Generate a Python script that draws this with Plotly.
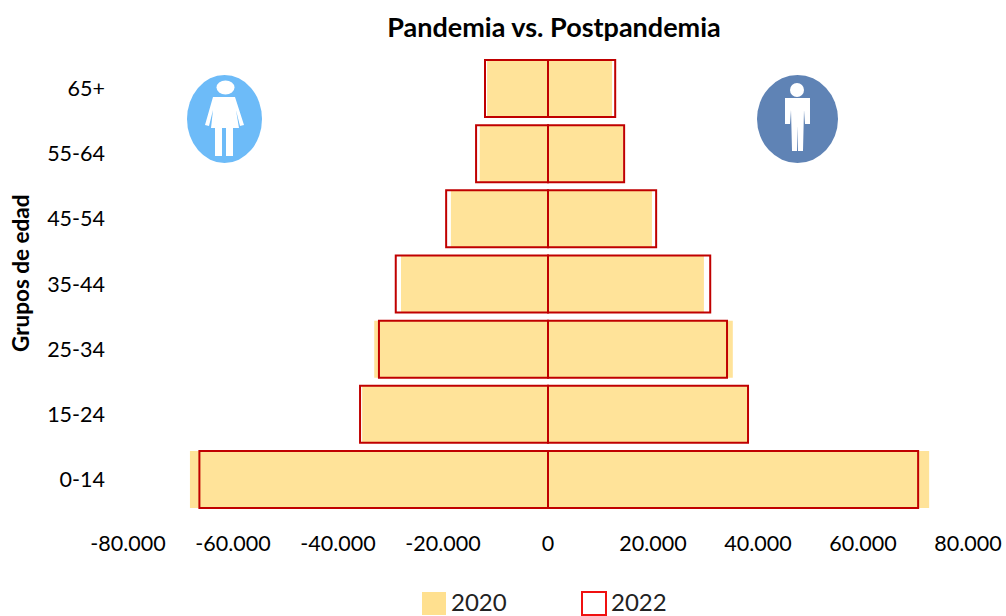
import plotly.graph_objects as go

groups = ["0-14", "15-24", "25-34", "35-44", "45-54", "55-64", "65+"]
women_2020 = [-68200, -35400, -33100, -28000, -18500, -13000, -11600]
men_2020 = [72600, 37900, 35200, 29700, 19800, 14300, 12200]
women_2022 = [-66400, -35800, -32200, -29000, -19400, -13700, -12000]
men_2022 = [70500, 38100, 34100, 30900, 20600, 14500, 12800]
tick_vals = [-80000, -60000, -40000, -20000, 0, 20000, 40000, 60000, 80000]
tick_text = ["-80.000", "-60.000", "-40.000", "-20.000", "0", "20.000", "40.000", "60.000", "80.000"]

W, H = 1006, 616
L, R, T, B = 128, 968, 56, 512
FILL = "#FFE399"
EDGE = "#C00000"
FONT = "Lato"


def px(x):
    return (x - L) / (R - L)


def py(y):
    return (B - y) / (B - T)


def path(points):
    return "M" + "L".join(f"{px(x):.5f},{py(y):.5f}" for x, y in points) + "Z"


def paper_shape(**kw):
    return dict(xref="paper", yref="paper", layer="above", **kw)


def ellipse(x0, x1, y0, y1, color):
    return paper_shape(type="circle", x0=px(x0), x1=px(x1), y0=py(y0), y1=py(y1),
                       fillcolor=color, line=dict(width=0))


def poly(points, color="white"):
    return paper_shape(type="path", path=path(points), fillcolor=color, line=dict(width=0))


fig = go.Figure()
for vals in (women_2020, men_2020):
    fig.add_bar(y=groups, x=vals, orientation="h", width=0.875,
                marker=dict(color=FILL, line=dict(width=0)), showlegend=False)
for vals in (women_2022, men_2022):
    fig.add_bar(y=groups, x=vals, orientation="h", width=0.875,
                marker=dict(color="rgba(0,0,0,0)", line=dict(color=EDGE, width=2)), showlegend=False)

shapes = [
    ellipse(187, 262, 75, 163, "#6DBBF8"),
    ellipse(216.5, 234.5, 80.5, 94.5, "white"),
    poly([(213, 97), (235, 97), (244, 125), (240, 126), (236, 110), (239, 128), (211, 128), (213, 110), (209, 126), (205, 125)]),
    poly([(215, 128), (222, 128), (222, 156), (215, 156)]),
    poly([(226, 128), (233, 128), (233, 156), (226, 156)]),
    ellipse(757, 838, 75, 163, "#5F83B5"),
    ellipse(790, 804, 83, 97, "white"),
    poly([(785, 98), (810, 98), (810, 124), (805, 124), (804, 110), (803, 151), (798, 151), (797.5, 126), (797, 151), (792, 151), (791, 110), (790, 124), (785, 124)]),
    paper_shape(type="rect", x0=px(422), x1=px(446), y0=py(592), y1=py(615), fillcolor="#FFE08F", line=dict(width=0)),
    paper_shape(type="rect", x0=px(582), x1=px(606), y0=py(592), y1=py(615), fillcolor="white", line=dict(color="#F01010", width=2)),
]

annotations = [
    dict(text="2020", xref="paper", yref="paper", x=px(449), y=py(601.5), xanchor="left", yanchor="middle",
         showarrow=False, font=dict(size=24, family=FONT, color="#222222")),
    dict(text="2022", xref="paper", yref="paper", x=px(609), y=py(601.5), xanchor="left", yanchor="middle",
         showarrow=False, font=dict(size=24, family=FONT, color="#222222")),
    dict(text="<b>Grupos de edad</b>", xref="paper", yref="paper", x=px(20), y=py(273), xanchor="center",
         yanchor="middle", textangle=-90, showarrow=False, font=dict(size=22.5, family=FONT, color="black")),
]

fig.update_layout(
    width=W, height=H,
    margin=dict(l=L, r=W - R, t=T, b=H - B, autoexpand=False),
    paper_bgcolor="white", plot_bgcolor="white",
    barmode="overlay",
    font=dict(family=FONT, size=21.5, color="black"),
    title=dict(text="<b>Pandemia vs. Postpandemia</b>", x=px(554), xref="paper", xanchor="center",
               y=1 - 28 / H, yref="container", yanchor="middle", font=dict(size=27, family=FONT, color="black")),
    xaxis=dict(range=[-80000, 80000], tickmode="array", tickvals=tick_vals, ticktext=tick_text,
               showgrid=False, zeroline=False, showline=False, ticks="", ticklabelstandoff=16),
    yaxis=dict(type="category", categoryorder="array", categoryarray=groups, showgrid=False,
               showline=False, ticks="", ticklabelstandoff=22),
    shapes=shapes, annotations=annotations,
)
fig.write_html("out.html", post_script="document.body.style.margin='0';", config=dict(displayModeBar=False))
